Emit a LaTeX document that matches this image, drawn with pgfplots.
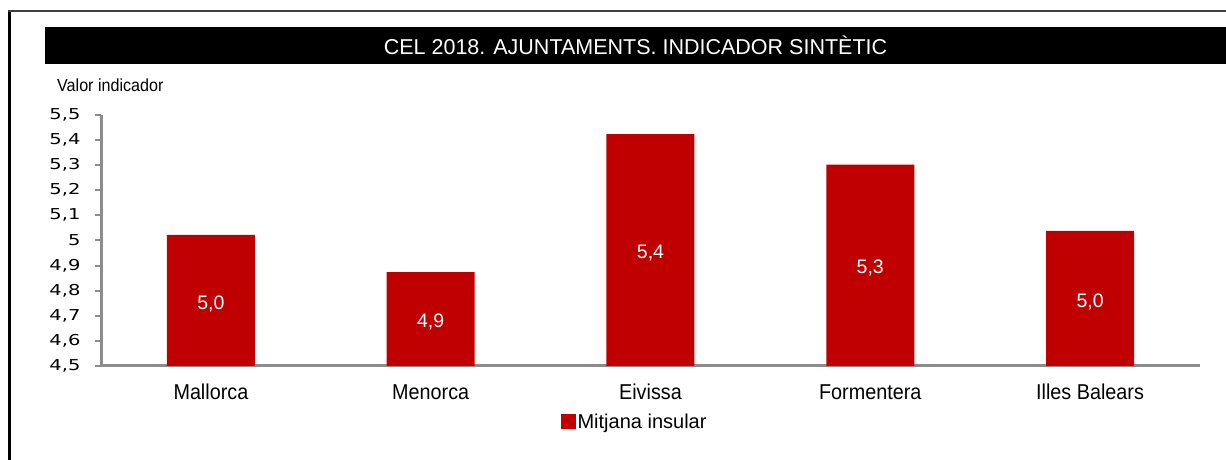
\documentclass[border=0pt]{standalone}
\usepackage{pgfplots}
\pgfplotsset{compat=1.18}
\usepackage{fontspec}
\setmainfont{Liberation Sans}
\newfontfamily\tickfont[FakeStretch=1.3]{DejaVu Sans}
\newfontfamily\narrowfont[FakeStretch=0.92]{Liberation Sans}
\definecolor{barred}{HTML}{C00000}
\definecolor{axisgray}{HTML}{8C8C8C}
\begin{document}
\begin{tikzpicture}[x=1bp,y=1bp]
\useasboundingbox (0,0) rectangle (1226,460);
\fill[white] (0,0) rectangle (1226,460);
% frame
\draw[black, line width=3bp] (9.5,0) -- (9.5,449.5);
\draw[black!75, line width=2bp] (8,449) -- (1226,449);
% title bar
\fill[black] (45,433) rectangle (1226,396);
\node[text=white, font=\fontsize{21.5bp}{24bp}\selectfont] at (635.5,414.5) {CEL 2018. AJUNTAMENTS. INDICADOR SINTÈTIC};
% y label
\node[anchor=west, font=\narrowfont\fontsize{17.5bp}{19bp}\selectfont, inner sep=0pt] at (57,375) {Valor indicador};
\begin{axis}[
  at={(101bp,94bp)}, anchor=south west,
  scale only axis, width=1099bp, height=251bp,
  xmin=-0.5, xmax=4.5, ymin=4.5, ymax=5.5,
  axis x line=bottom, axis y line=left,
  axis line style={-, draw=axisgray, line width=3bp},
  every tick/.style={draw=axisgray, line width=2bp},
  tick align=outside,
  xtick={0,1,2,3,4},
  xticklabels={Mallorca,Menorca,Eivissa,Formentera,Illes Balears},
  x tick label style={font=\narrowfont\fontsize{21.5bp}{23bp}\selectfont, text height=0.75em, text depth=0.25em, yshift=-17bp},
  major x tick style={draw=none},
  extra x ticks={0.5,1.5,2.5,3.5,4.5},
  extra x tick labels={},
  extra x tick style={major tick length=6bp, tick style={draw=axisgray, line width=2bp}},
  ytick={4.5,4.6,4.7,4.8,4.9,5,5.1,5.2,5.3,5.4,5.5},
  major tick length=6bp,
  y tick label style={font=\tickfont\fontsize{15bp}{17bp}\selectfont, xshift=-11bp, /pgf/number format/use comma, /pgf/number format/fixed, /pgf/number format/precision=1, /pgf/number format/assume math mode=true},
  ybar, bar width=88bp,
  nodes near coords,
  visualization depends on={rawy \as \ry},
  nodes near coords style={anchor=center, text=white, font=\fontsize{19.5bp}{23bp}\selectfont,
    yshift={-(\ry-4.5)*125.5bp-3bp},
    /pgf/number format/use comma, /pgf/number format/fixed, /pgf/number format/fixed zerofill, /pgf/number format/precision=1, /pgf/number format/assume math mode=true},
  legend style={at={(0.4855,-0.223)}, anchor=center, draw=none, fill=none,
    font=\fontsize{20bp}{23bp}\selectfont, nodes={inner sep=2bp}},
  legend image code/.code={\fill[barred] (0bp,-7.5bp) rectangle (15bp,7.5bp);},
]
\addplot[fill=barred, draw=none] coordinates {(0,5.022) (1,4.874) (2,5.424) (3,5.302) (4,5.038)};
\addlegendentry{Mitjana insular}
\end{axis}
\end{tikzpicture}
\end{document}
